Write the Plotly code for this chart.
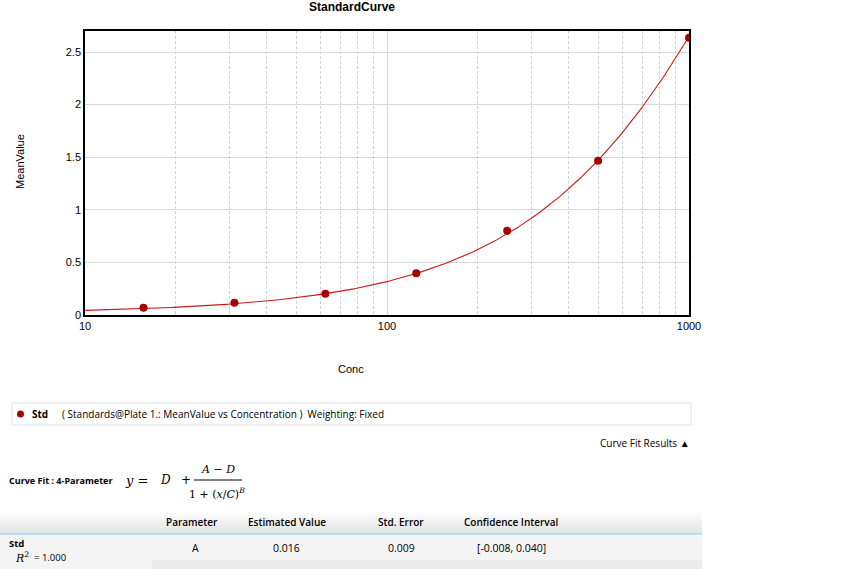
import numpy as np
import plotly.graph_objects as go

# ---------------- data ----------------
conc = [15.625, 31.25, 62.5, 125, 250, 500, 1000]
mean_value = [0.069, 0.117, 0.202, 0.396, 0.800, 1.466, 2.636]

# 4-parameter logistic fit parameters (A read from table, others estimated)
fit_A = 0.016
fit_B = 1.05
fit_C = 2940.0
fit_D = 10.82

x_tick_vals = [10, 100, 1000]
x_tick_text = ["10", "100", "1000"]
x_minor_vals = [20, 30, 40, 50, 60, 70, 80, 90, 200, 300, 400, 500, 600, 700, 800, 900]
y_tick_vals = [0, 0.5, 1, 1.5, 2, 2.5]
y_tick_text = ["0", "0.5", "1", "1.5", "2", "2.5"]

table_headers = ["Parameter", "Estimated Value", "Std. Error", "Confidence Interval"]
table_row = ["A", "0.016", "0.009", "[-0.008, 0.040]"]

# ---------------- fitted curve ----------------
xc = np.logspace(1, 3, 300)
yc = fit_D + (fit_A - fit_D) / (1 + (xc / fit_C) ** fit_B)

# ---------------- geometry ----------------
FW, FH = 864, 569
L, T, R, B = 85, 31, 689, 315
W, H = R - L, B - T


def px(x):
    return (x - L) / W


def py(y):
    return (B - y) / H


fig = go.Figure()
fig.add_trace(go.Scatter(x=xc, y=yc, mode="lines",
                         line=dict(color="#c81a1a", width=1.1),
                         hoverinfo="skip", showlegend=False))
fig.add_trace(go.Scatter(x=conc, y=mean_value, mode="markers",
                         marker=dict(color="#a80000", size=8),
                         showlegend=False))

sans = "Liberation Sans, Arial, sans-serif"
ui = "Open Sans, Noto Sans, sans-serif"
serif = "DejaVu Serif, Liberation Serif, serif"

fig.update_layout(
    width=FW, height=FH,
    margin=dict(l=L, r=FW - R, t=T, b=FH - B),
    paper_bgcolor="white", plot_bgcolor="white",
    showlegend=False,
    font=dict(family=sans, size=11, color="black"),
    xaxis=dict(type="log", range=[1, 3], tickvals=x_tick_vals, ticktext=x_tick_text,
               showgrid=True, gridcolor="#d6d6d6", gridwidth=1,
               showline=True, linecolor="black", linewidth=1.5, mirror=True,
               ticks="", zeroline=False,
               tickfont=dict(family=sans, size=11, color="black"),
               minor=dict(tickvals=x_minor_vals, showgrid=True, gridcolor="#d3d3d3",
                          griddash="3px,2px", gridwidth=1, ticks="")),
    yaxis=dict(range=[0, 2.7], tickvals=y_tick_vals, ticktext=y_tick_text,
               showgrid=True, gridcolor="#d9d9d9", gridwidth=1,
               showline=True, linecolor="black", linewidth=1.5, mirror=True,
               ticks="", zeroline=False,
               tickfont=dict(family=sans, size=11, color="black")),
)

ann = []
shapes = []


def text(x, y, s, size=10, family=ui, xanchor="left", yanchor="middle",
         weight="normal", color="black", textangle=0):
    ann.append(dict(x=px(x), y=py(y), xref="paper", yref="paper", text=s,
                    showarrow=False, xanchor=xanchor, yanchor=yanchor,
                    textangle=textangle,
                    font=dict(family=family, size=size, color=color, weight=weight)))


def rect(x0, y0, x1, y1, fill, line=None, lw=0):
    shapes.append(dict(type="rect", xref="paper", yref="paper",
                       x0=px(x0), x1=px(x1), y0=py(y1), y1=py(y0),
                       fillcolor=fill,
                       line=dict(color=line or fill, width=lw)))


# titles
text(352, 7, "StandardCurve", size=12, family=sans, xanchor="center", weight="bold")
text(20, 162, "MeanValue", size=11, family=sans, xanchor="center", textangle=-90)
text(351, 369, "Conc", size=11, family=sans, xanchor="center")

# legend box
rect(12, 403, 691, 425, "white", line="#e2e2e2", lw=1)
shapes.append(dict(type="circle", xref="paper", yref="paper",
                   x0=px(17), x1=px(24), y0=py(417.5), y1=py(410.5),
                   fillcolor="#a80000", line=dict(color="#a80000", width=0)))
text(30, 414, "Std", size=10, weight="bold")
text(60, 414, "( Standards@Plate 1.: MeanValue vs Concentration )  Weighting: Fixed", size=10)

text(692, 443, "Curve Fit Results ▲", size=10, xanchor="right")

# curve fit formula
text(7, 480, "Curve Fit : 4-Parameter", size=9, weight="bold")
text(123, 480, "<i>y</i> =", size=13, family=serif)
text(158, 480, "<i>D</i>", size=12, family=serif)
text(179, 480, "+", size=12, family=serif)
text(218, 469, "<i>A</i> − <i>D</i>", size=11, family=serif, xanchor="center")
shapes.append(dict(type="line", xref="paper", yref="paper",
                   x0=px(194), x1=px(242), y0=py(480), y1=py(480),
                   line=dict(color="black", width=1)))
text(217, 493, "1 + (<i>x</i>/<i>C</i>)<sup><i>B</i></sup>", size=11, family=serif,
     xanchor="center")

# table header gradient
n = 12
for i in range(n):
    c = int(255 - (255 - 228) * i / (n - 1))
    col = f"rgb({c},{c},{c})"
    rect(0, 510 + i * 2, 702, 512 + i * 2, col)
rect(0, 534, 702, 569, "#f4f4f4")
rect(152, 560, 702, 569, "#eaeaea")
shapes.append(dict(type="line", xref="paper", yref="paper",
                   x0=px(0), x1=px(702), y0=py(534), y1=py(534),
                   line=dict(color="#88cfee", width=1.2)))

header_x = [192, 287, 401, 511]
for hx, h in zip(header_x, table_headers):
    text(hx, 522, h, size=10, xanchor="center", weight=600)
row_x = [195, 286, 401, 511]
for rx, v in zip(row_x, table_row):
    text(rx, 548, v, size=10.5, xanchor="center")

text(7, 543, "Std", size=9.5, weight="bold")
text(13, 557, "<i>R</i><sup>2</sup>", size=11, family=serif)
text(32, 557, "= 1.000", size=9.5)

fig.update_layout(annotations=ann, shapes=shapes)
fig.write_html("out.html",
               config={"displayModeBar": False},
               post_script="document.body.style.margin='0';document.body.style.overflow='hidden';")
